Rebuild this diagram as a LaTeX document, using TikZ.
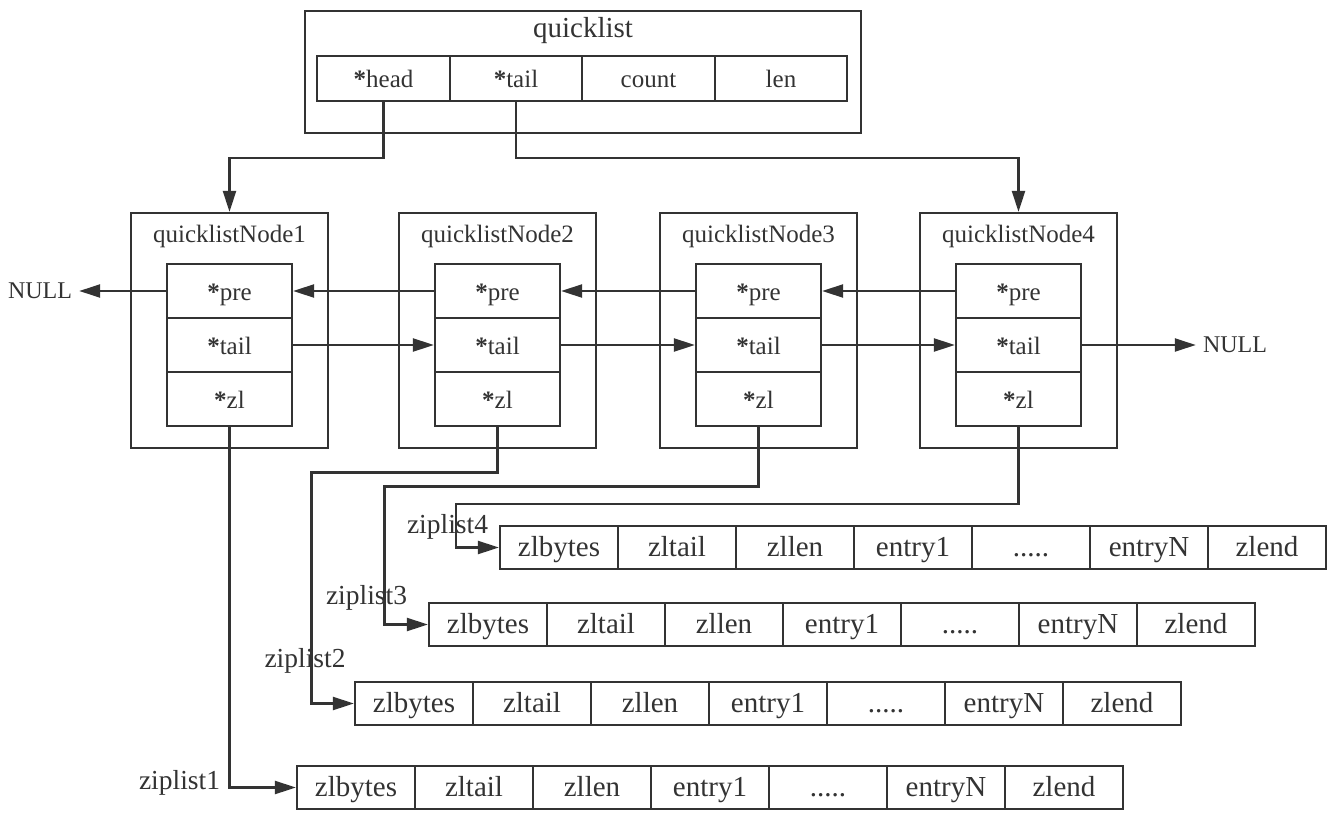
\documentclass[tikz,border=0pt]{standalone}
\usepackage{fontspec}
\setmainfont{Liberation Serif}
\usetikzlibrary{arrows.meta}
\definecolor{ink}{HTML}{333333}
\newcommand\myast{{\bfseries *}}
\newcommand\myzip[3]{%
  \node[zcell] (#1a) at (#2+59,#3) {zlbytes};
  \node[zcell] (#1b) at (#2+177,#3) {zltail};
  \node[zcell] (#1c) at (#2+295,#3) {zllen};
  \node[zcell] (#1d) at (#2+413,#3) {entry1};
  \node[zcell] (#1e) at (#2+531,#3) {.....};
  \node[zcell] (#1f) at (#2+649,#3) {entryN};
  \node[zcell] (#1g) at (#2+767,#3) {zlend};
}
\begin{document}
\begin{tikzpicture}[x=1pt,y=-1pt,
  lw/.style={draw=ink, line width=2.2pt},
  qfield/.style={lw, inner sep=0pt, minimum width=132.5pt, minimum height=45pt, text=ink, text height=21pt, text depth=3.5pt, font=\fontsize{25}{30}\selectfont},
  nframe/.style={lw, inner sep=0pt, minimum width=197pt, minimum height=235pt},
  ntitle/.style={inner sep=0pt, text=ink, font=\fontsize{25}{29}\selectfont},
  nfield/.style={lw, inner sep=0pt, minimum width=125pt, minimum height=54pt, text=ink, text height=21pt, text depth=3pt, font=\fontsize{25}{30}\selectfont},
  zcell/.style={lw, inner sep=0pt, minimum width=118pt, minimum height=43pt, text=ink, text height=23pt, text depth=4.5pt, font=\fontsize{29}{34}\selectfont},
  zlab/.style={inner sep=0pt, text=ink, anchor=base, font=\fontsize{27.5}{32}\selectfont},
  nulltxt/.style={inner ysep=0pt, inner xsep=7pt, text=ink, font=\fontsize{24}{28}\selectfont},
  arr/.style={lw, -{Triangle[length=21pt,width=13pt]}},
  wire/.style={lw}]
\useasboundingbox (0,0) rectangle (1330,816);
% quicklist
\node[lw, inner sep=0pt, minimum width=556pt, minimum height=122pt] (ql) at (583,72) {};
\node[inner sep=0pt, text=ink, font=\fontsize{29}{34}\selectfont] (qltitle) at (583,31) {quicklist};
\node[qfield] (qh) at (383.5,78.5) {\myast head};
\node[qfield] (qt) at (516,78.5) {\myast tail};
\node[qfield] (qc) at (648.5,78.5) {count};
\node[qfield] (qlen) at (781,78.5) {len};
% quicklist nodes
\foreach \i/\cx in {1/229.5,2/497.5,3/758.5,4/1018.5}{
  \node[nframe] (n\i) at (\cx,330.5) {};
  \node[ntitle] (nt\i) at (\cx,236) {quicklistNode\i};
  \node[nfield] (p\i) at (\cx,291) {\myast pre};
  \node[nfield] (t\i) at (\cx,345) {\myast tail};
  \node[nfield] (z\i) at (\cx,399) {\myast zl};
}
\node[nulltxt] (nl) at (40,291) {NULL};
\node[nulltxt] (nr) at (1235,345) {NULL};
% head / tail pointers
\coordinate (hb) at (229.5,158);
\coordinate (tb) at (1018.5,158);
\draw[arr] (qh.south) |- (hb) -- (n1.north);
\draw[arr] (qt.south) |- (tb) -- (n4.north);
% pre / tail links
\draw[arr] (p1.west) -- (nl.east);
\foreach \i/\j in {1/2,2/3,3/4}{
  \draw[arr] (p\j.west) -- (p\i.east);
  \draw[arr] (t\i.east) -- (t\j.west);
}
\draw[arr] (t4.east) -- (nr.west);
% ziplists
\myzip{zlA}{500}{547.5}
\myzip{zlB}{429}{624.5}
\myzip{zlC}{355}{703.5}
\myzip{zlD}{297}{787.5}
\node[zlab] (lab4) at (447.5,533) {ziplist4};
\node[zlab] (lab3) at (366.5,604) {ziplist3};
\node[zlab] (lab2) at (305,667) {ziplist2};
\node[zlab] (lab1) at (179.5,789) {ziplist1};
% zl pointers
\coordinate (b2) at (311.5,472.5);
\coordinate (b3) at (384.5,486.5);
\coordinate (b4) at (456,504);
\draw[arr] (z1.south) |- (zlDa.west);
\draw[arr] (z2.south) |- (b2) |- (zlCa.west);
\draw[arr] (z3.south) |- (b3) |- (zlBa.west);
\draw[arr] (z4.south) |- (b4) |- (zlAa.west);
\end{tikzpicture}
\end{document}
